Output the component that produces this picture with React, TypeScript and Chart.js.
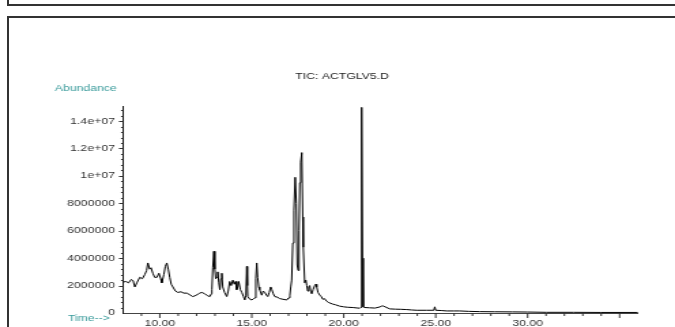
import { useEffect, useRef } from 'react';
import { Chart, registerables } from 'chart.js';

Chart.register(...registerables);

// Retention time (minutes)
const times = [
  8.0, 8.15, 8.3, 8.45, 8.55, 8.64, 8.75, 8.91, 9.05, 9.18, 9.28, 9.35, 9.45, 9.52, 9.62, 9.72, 9.84, 9.95,
  10.05, 10.11, 10.22, 10.3, 10.38, 10.46, 10.54, 10.62, 10.71, 10.85, 10.98, 11.15, 11.3, 11.47, 11.6, 11.79,
  11.9, 12.05, 12.17, 12.28, 12.45, 12.6, 12.72, 12.8, 12.83, 12.88, 12.94, 12.99, 13.04, 13.1, 13.15, 13.21,
  13.26, 13.32, 13.37, 13.42, 13.52, 13.64, 13.72, 13.8, 13.88, 13.97, 14.05, 14.12, 14.18, 14.24, 14.29, 14.38,
  14.46, 14.55, 14.62, 14.68, 14.73, 14.76, 14.78, 14.9, 15.0, 15.1, 15.16, 15.22, 15.27, 15.32, 15.38, 15.43,
  15.54, 15.62, 15.71, 15.8, 15.87, 15.95, 16.03, 16.09, 16.17, 16.25, 16.4, 16.52, 16.7, 16.9, 17.0, 17.07,
  17.12, 17.17, 17.23, 17.29, 17.36, 17.42, 17.47, 17.52, 17.57, 17.61, 17.66, 17.72, 17.77, 17.8, 17.88, 17.94,
  17.99, 18.04, 18.1, 18.15, 18.2, 18.26, 18.33, 18.42, 18.48, 18.53, 18.6, 18.7, 18.78, 18.86, 18.95, 19.08,
  19.2, 19.4, 19.55, 19.78, 20.0, 20.2, 20.49, 20.7, 20.87, 20.92, 20.96, 20.99, 21.02, 21.06, 21.14, 21.4,
  21.7, 21.96, 22.05, 22.12, 22.25, 22.5, 22.8, 23.1, 23.42, 23.7, 23.97, 24.5, 24.9, 24.95, 25.0, 25.3,
  25.6, 26.0, 26.3, 26.8, 27.39, 28.2, 29.18, 30.0, 31.03, 32.5, 34.0, 36.0,
];

// Total ion current abundance
const abundance = [
  2250000, 2300000, 2200000, 2450000, 2350000, 1900000, 2200000, 2600000, 2500000, 2800000, 3100000, 3650000,
  3200000, 3300000, 2900000, 2600000, 2600000, 2900000,
  2500000, 2200000, 2800000, 3400000, 3650000, 3200000, 2600000, 2100000, 1900000, 1600000, 1500000, 1550000,
  1450000, 1450000, 1350000, 1200000,
  1250000, 1350000, 1450000, 1500000, 1400000, 1250000, 1200000, 1400000, 1700000, 3300000, 4500000, 3200000,
  2500000, 2600000, 3000000, 2200000,
  1700000, 2500000, 2900000, 1900000, 1500000, 1200000, 1600000, 2300000, 2000000, 2400000, 2100000, 2300000,
  1700000, 1900000, 2300000, 1700000,
  1500000, 1200000, 950000, 1300000, 3400000, 2000000, 1200000, 1000000, 950000, 1050000, 1100000, 2500000,
  3650000, 2600000, 1900000, 1700000,
  1300000, 1600000, 1500000, 1300000, 1200000, 1500000, 1900000, 1700000, 1400000, 1200000, 1150000, 1050000,
  1000000, 950000, 1100000, 1300000,
  1900000, 2400000, 5100000, 7500000, 9900000, 8000000, 3500000, 3100000, 6000000, 9500000, 11000000, 11700000,
  7000000, 4800000, 2200000, 2400000,
  2000000, 1600000, 1900000, 2000000, 1600000, 1400000, 1700000, 2000000, 2100000, 1900000, 1500000, 1300000,
  1200000, 1000000, 1050000, 850000,
  750000, 650000, 600000, 500000, 450000, 420000, 400000, 370000, 350000, 400000, 5000000, 15000000, 4000000,
  450000, 400000, 380000,
  360000, 440000, 500000, 520000, 450000, 300000, 280000, 270000, 250000, 220000, 200000, 200000, 200000,
  450000, 200000, 180000,
  150000, 150000, 150000, 120000, 100000, 90000, 80000, 70000, 50000, 50000, 40000, 40000,
];

const xLabelValues = [10, 15, 20, 25, 30];
const xTickLabels = ['10.00', '15.00', '20.00', '25.00', '30.00'];
const yLabelValues = [0, 2000000, 4000000, 6000000, 8000000, 10000000, 12000000, 14000000];
const yTickLabels = ['0', '2000000', '4000000', '6000000', '8000000', '1e+07', '1.2e+07', '1.4e+07'];
const chartTitle = 'TIC: ACTGLV5.D';
const yAxisName = 'Abundance';
const xAxisName = 'Time-->';

const X_MIN = 8;
const X_MAX = 36;
const Y_MAX = 15100000;
const X_MINOR_STEP = 1;
const X_MAJOR_STEP = 5;
const Y_MINOR_STEP = 400000;
const Y_MAJOR_STEP = 2000000;

const CANVAS_W = 496;
const CANVAS_H = 327;
const FONT = '"Liberation Sans", Arial, sans-serif';
const TEAL = '#3a9b9b';

const decorPlugin = {
  id: 'decor',
  afterDraw(chart: any) {
    const { ctx, chartArea } = chart;
    const xs = chart.scales.x;
    const ys = chart.scales.y;
    ctx.save();
    ctx.strokeStyle = '#333';
    ctx.lineWidth = 1;
    ctx.beginPath();
    for (let t = X_MIN + X_MINOR_STEP; t < X_MAX; t += X_MINOR_STEP) {
      const px = xs.getPixelForValue(t);
      const len = t % X_MAJOR_STEP === 0 ? 5 : 3;
      ctx.moveTo(px, chartArea.bottom);
      ctx.lineTo(px, chartArea.bottom + len);
    }
    for (let v = Y_MINOR_STEP; v < Y_MAX; v += Y_MINOR_STEP) {
      const py = Math.round(ys.getPixelForValue(v)) + 0.5;
      const major = Math.round(v / 100000) % Math.round(Y_MAJOR_STEP / 100000) === 0;
      ctx.moveTo(chartArea.left, py);
      ctx.lineTo(chartArea.left - (major ? 3 : 1.5), py);
    }
    ctx.stroke();
    ctx.fillStyle = TEAL;
    ctx.font = `9px ${FONT}`;
    ctx.textAlign = 'right';
    ctx.textBaseline = 'middle';
    ctx.fillText(yAxisName, chartArea.left - 4.7, 89);
    ctx.fillText(xAxisName, chartArea.left - 9.6, 319);
    ctx.restore();
  },
};

export default function App() {
  const ref = useRef<HTMLCanvasElement>(null);
  useEffect(() => {
    const chart = new Chart(ref.current as HTMLCanvasElement, {
      type: 'line',
      data: {
        datasets: [
          {
            data: times.map((t, i) => ({ x: t, y: abundance[i] })),
            borderColor: '#000',
            borderWidth: 1,
            pointRadius: 0,
            tension: 0,
            fill: false,
          },
        ],
      },
      options: {
        responsive: false,
        animation: false,
        devicePixelRatio: 1,
        layout: { padding: { left: 33.8, right: 27.2, top: 71, bottom: 0 } },
        plugins: {
          legend: { display: false },
          tooltip: { enabled: false },
          title: {
            display: true,
            text: chartTitle,
            color: '#222',
            font: { family: FONT, size: 9, weight: 'normal' },
            padding: { top: 0, bottom: 24.2 },
          },
        },
        scales: {
          x: {
            type: 'linear',
            min: X_MIN,
            max: X_MAX,
            afterBuildTicks: (s: any) => {
              s.ticks = xLabelValues.map((value) => ({ value }));
            },
            afterFit: (s: any) => {
              s.height = 14;
            },
            grid: { drawOnChartArea: false, drawTicks: false },
            border: { display: true, color: '#444', width: 1 },
            ticks: {
              autoSkip: false,
              maxRotation: 0,
              padding: 5,
              color: '#333',
              font: { family: FONT, size: 9 },
              callback: (_v: any, i: number) => xTickLabels[i],
            },
          },
          y: {
            type: 'linear',
            min: 0,
            max: Y_MAX,
            afterBuildTicks: (s: any) => {
              s.ticks = yLabelValues.map((value) => ({ value }));
            },
            afterFit: (s: any) => {
              s.width = 56.6;
            },
            grid: { drawOnChartArea: false, drawTicks: false },
            border: { display: true, color: '#222', width: 1 },
            ticks: {
              autoSkip: false,
              padding: 6,
              color: '#333',
              font: { family: FONT, size: 9 },
              callback: (_v: any, i: number) => yTickLabels[i],
            },
          },
        },
      } as any,
      plugins: [decorPlugin],
    });
    return () => chart.destroy();
  }, []);

  return (
    <div
      style={{
        position: 'fixed',
        left: 0,
        top: 0,
        width: 675,
        height: 327,
        background: '#fff',
        overflow: 'hidden',
      }}
    >
      <div
        style={{
          position: 'absolute',
          left: 7,
          top: -20,
          width: 720,
          height: 26,
          boxSizing: 'border-box',
          border: '2px solid #333',
        }}
      />
      <div
        style={{
          position: 'absolute',
          left: 7,
          top: 16,
          width: 720,
          height: 340,
          boxSizing: 'border-box',
          border: '2px solid #333',
        }}
      />
      <canvas
        ref={ref}
        width={CANVAS_W}
        height={CANVAS_H}
        style={{ position: 'absolute', left: 0, top: 0, width: '675px', height: '327px' }}
      />
    </div>
  );
}
